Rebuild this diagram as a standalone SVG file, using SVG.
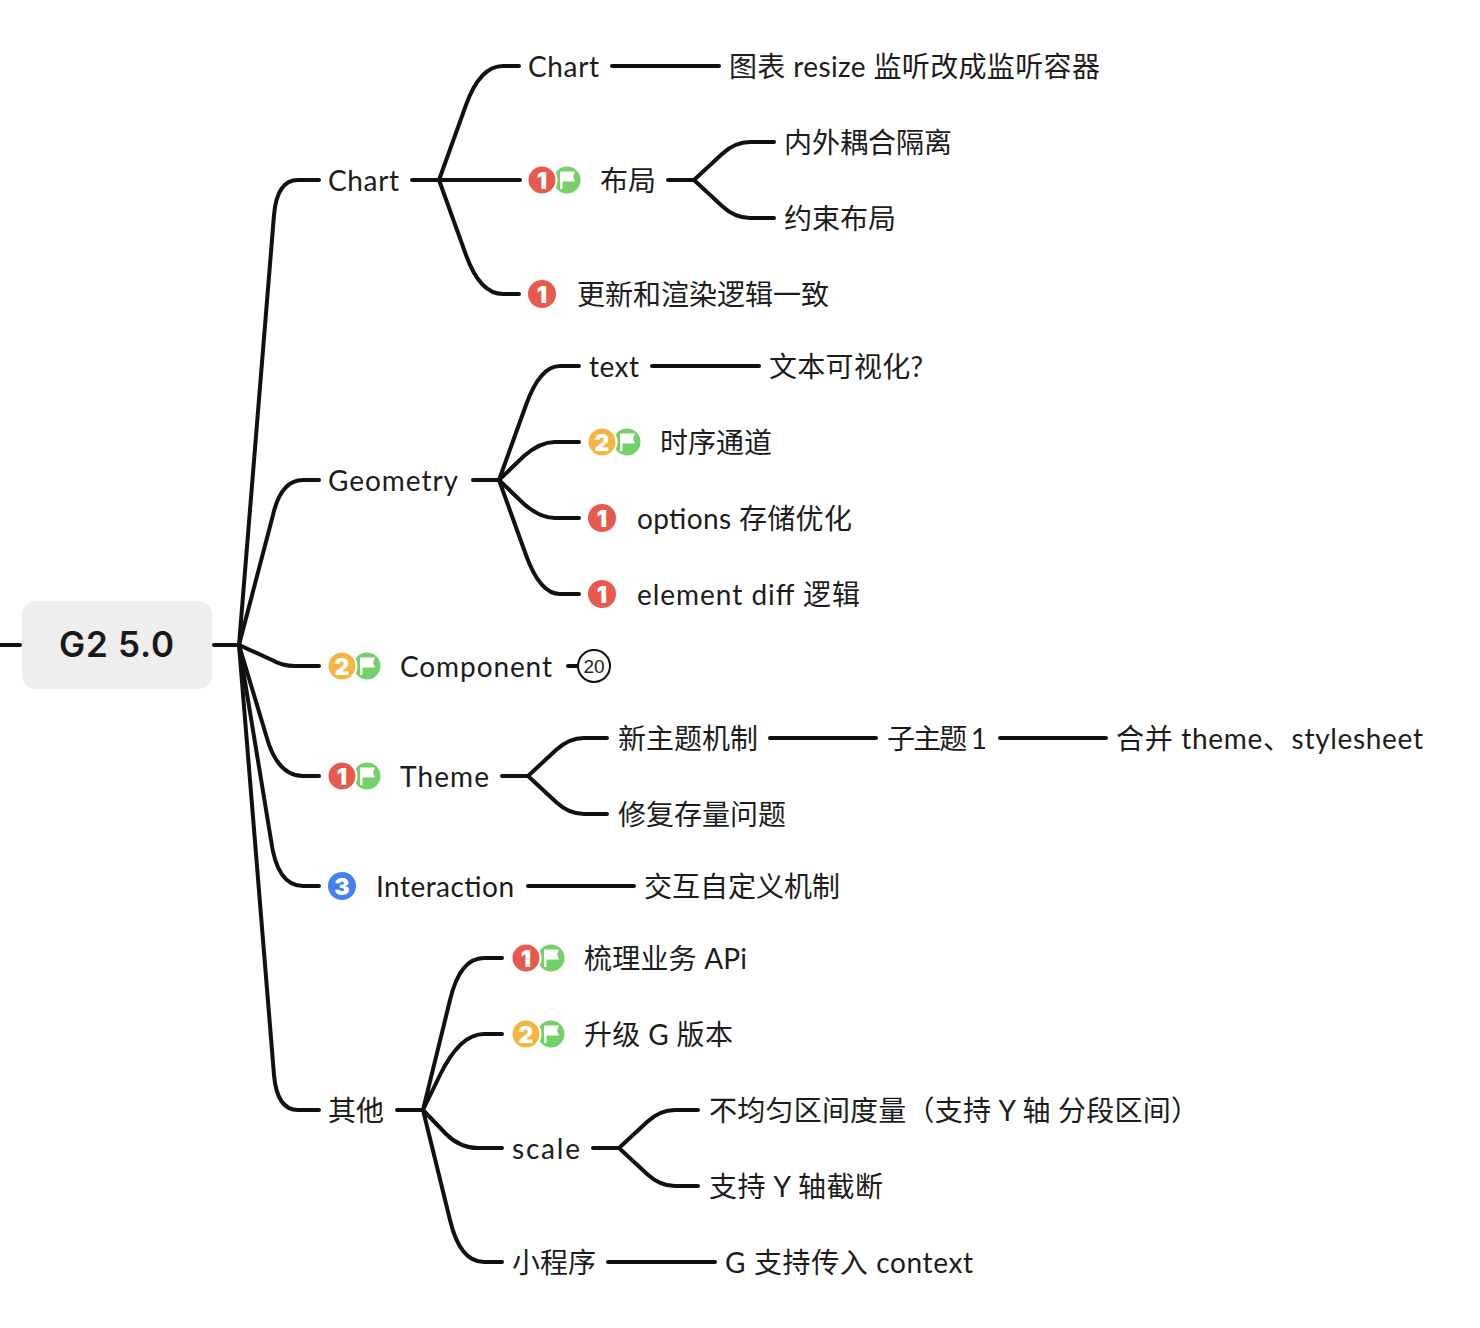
<svg xmlns="http://www.w3.org/2000/svg" xmlns:xlink="http://www.w3.org/1999/xlink" width="1480" height="1328" viewBox="0 0 1480 1328">
<style>
text{font-family:"Lato","Noto Sans CJK SC",sans-serif;font-size:28px;fill:#1c1c1c}
.c{fill:none;stroke:#111;stroke-width:4;stroke-linecap:round;stroke-linejoin:round}
.n{font-family:"Inter","Lato",sans-serif;font-size:23px;font-weight:900;fill:#fff;text-anchor:middle}
.t{font-family:"Inter","Lato",sans-serif;font-size:35px;font-weight:600;fill:#1a1a1a}
.red{fill:#e85a4f}.org{fill:#f5b541}.blu{fill:#4480f0}.grn{fill:#74d16a}
.ring{stroke:#fff;stroke-width:2}
</style>
<defs>
<g id="flag"><circle class="grn" cx="0" cy="0" r="13.500"/><path d="M-7 -8.500H8L6 -3.500L8 1.500H-4.500V9H-7Z" fill="#fff"/></g>
</defs>
<g id="connectors">
<path class="c" d="M0 645H20M214 645H239"/>
<path class="c" d="M239 645L274 215Q277 180 298 180H319"/>
<path class="c" d="M239 645L273 515Q281 480 303 480H319"/>
<path class="c" d="M239 645L272 660Q282 666 295 666H319"/>
<path class="c" d="M239 645L266 735Q277 776 303 776H319"/>
<path class="c" d="M239 645L271 840Q277 886 303 886H319"/>
<path class="c" d="M239 645L274 1075Q277 1110 298 1110H319"/>
<path class="c" d="M412 180H520M439 180L466 105Q480 66 503 66H519M439 180L466 255Q480 294 503 294H519"/>
<path class="c" d="M612 66H719"/>
<path class="c" d="M668 180H694M694 180L722 154Q735 142 750 142H774M694 180L722 206Q735 218 750 218H774"/>
<path class="c" d="M473 480H499M499 480L526 405Q540 366 560 366H579M499 480L524 456Q540 442 555 442H579M499 480L524 504Q540 518 555 518H579M499 480L526 555Q540 594 560 594H579"/>
<path class="c" d="M652 366H759"/>
<path class="c" d="M568 666H578"/>
<path class="c" d="M502 776H528M528 776L556 750Q569 738 584 738H607M528 776L556 802Q569 814 584 814H607"/>
<path class="c" d="M770 738H876M1000 738H1106"/>
<path class="c" d="M528 886H634"/>
<path class="c" d="M397 1110H423M423 1110L450 1000Q460 958 484 958H502M423 1110L440 1075Q460 1034 484 1034H502M423 1110L446 1134Q460 1148 478 1148H502M423 1110L450 1220Q460 1262 484 1262H502"/>
<path class="c" d="M593 1148H619M619 1148L647 1122Q660 1110 675 1110H698M619 1148L647 1174Q660 1186 675 1186H698"/>
<path class="c" d="M608 1262H715"/>
</g>
<g id="root"><rect x="22" y="601" width="190" height="88" rx="14" fill="#eeeeee"/><text class="t" x="59" y="657" textLength="115">G2 5.0</text></g>
<g id="n-chart"><text x="328" y="191" textLength="71">Chart</text></g>
<g id="n-chart-chart"><text x="528" y="77" textLength="71">Chart</text></g>
<g id="n-resize"><text x="729" y="77" textLength="371">图表 resize 监听改成监听容器</text></g>
<g id="n-layout"><use xlink:href="#flag" href="#flag" x="567" y="180"/><circle class="red ring" cx="542" cy="180" r="14.500"/><text class="n" x="542" y="188.500">1</text><text x="600" y="191">布局</text></g>
<g id="n-layout-a"><text x="784" y="153">内外耦合隔离</text></g>
<g id="n-layout-b"><text x="784" y="229">约束布局</text></g>
<g id="n-update"><circle class="red" cx="542" cy="294" r="14"/><text class="n" x="542" y="302.500">1</text><text x="577" y="305">更新和渲染逻辑一致</text></g>
<g id="n-geometry"><text x="328" y="491" textLength="130">Geometry</text></g>
<g id="n-text"><text x="589" y="377" textLength="50">text</text></g>
<g id="n-textvis"><text x="769" y="377" textLength="154">文本可视化?</text></g>
<g id="n-time"><use xlink:href="#flag" href="#flag" x="627" y="442"/><circle class="org ring" cx="602" cy="442" r="14.500"/><text class="n" x="602" y="450.500">2</text><text x="660" y="453">时序通道</text></g>
<g id="n-options"><circle class="red" cx="602" cy="518" r="14"/><text class="n" x="602" y="526.500">1</text><text x="637" y="529" textLength="215">options 存储优化</text></g>
<g id="n-element"><circle class="red" cx="602" cy="594" r="14"/><text class="n" x="602" y="602.500">1</text><text x="637" y="605" textLength="223">element diff 逻辑</text></g>
<g id="n-component"><use xlink:href="#flag" href="#flag" x="367" y="666"/><circle class="org ring" cx="342" cy="666" r="14.500"/><text class="n" x="342" y="674.500">2</text><text x="400" y="677" textLength="152">Component</text></g>
<g id="n-count"><circle cx="594" cy="666" r="16" fill="#fff" stroke="#111" stroke-width="2"/><text x="594" y="673" text-anchor="middle" style="font-family:'Liberation Sans',sans-serif;font-size:19px">20</text></g>
<g id="n-theme"><use xlink:href="#flag" href="#flag" x="367" y="776"/><circle class="red ring" cx="342" cy="776" r="14.500"/><text class="n" x="342" y="784.500">1</text><text x="400" y="787" textLength="89">Theme</text></g>
<g id="n-newtheme"><text x="618" y="749">新主题机制</text></g>
<g id="n-subtheme"><text x="887" y="749" textLength="100">子主题 1</text></g>
<g id="n-merge"><text x="1116" y="749" textLength="307">合并 theme、stylesheet</text></g>
<g id="n-fix"><text x="618" y="825">修复存量问题</text></g>
<g id="n-interaction"><circle class="blu" cx="342" cy="886" r="14"/><text class="n" x="342" y="894.500">3</text><text x="376" y="897" textLength="138">Interaction</text></g>
<g id="n-custom"><text x="644" y="897">交互自定义机制</text></g>
<g id="n-other"><text x="328" y="1121">其他</text></g>
<g id="n-api"><use xlink:href="#flag" href="#flag" x="551" y="958"/><circle class="red ring" cx="526" cy="958" r="14.500"/><text class="n" x="526" y="966.500">1</text><text x="584" y="969" textLength="163">梳理业务 APi</text></g>
<g id="n-g"><use xlink:href="#flag" href="#flag" x="551" y="1034"/><circle class="org ring" cx="526" cy="1034" r="14.500"/><text class="n" x="526" y="1042.500">2</text><text x="584" y="1045" textLength="149">升级 G 版本</text></g>
<g id="n-scale"><text x="512" y="1159" textLength="68">scale</text></g>
<g id="n-uneven"><text x="709" y="1121" textLength="490">不均匀区间度量（支持 Y 轴 分段区间）</text></g>
<g id="n-ybreak"><text x="709" y="1197" textLength="174">支持 Y 轴截断</text></g>
<g id="n-mini"><text x="512" y="1273">小程序</text></g>
<g id="n-context"><text x="725" y="1273" textLength="248">G 支持传入 context</text></g>
</svg>
